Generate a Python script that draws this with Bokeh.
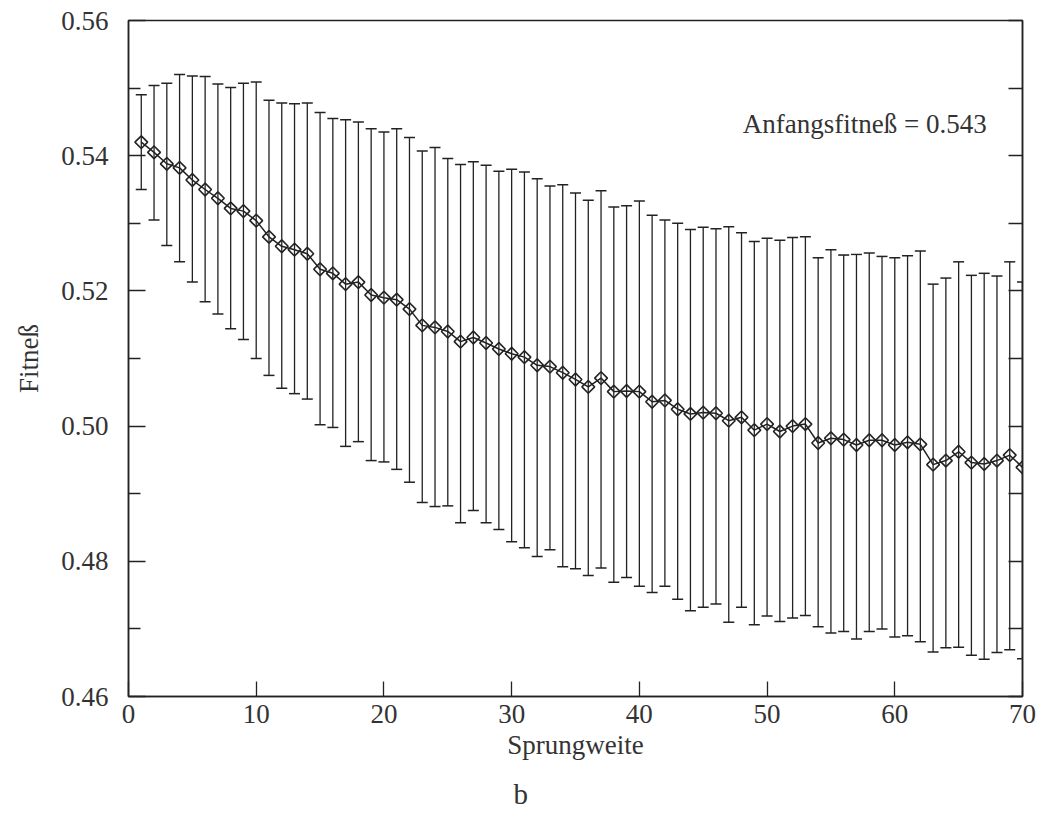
from bokeh.plotting import figure
from bokeh.models import (ColumnDataSource, Range1d, LinearAxis, Whisker, TeeHead,
                          Label, FixedTicker, Title)
from bokeh.embed import file_html
from bokeh.resources import INLINE

# ---- data ----
sprungweite = list(range(1, 71))
fitness_mean = [
    0.5420, 0.5405, 0.5388, 0.5382, 0.5364, 0.5350, 0.5337, 0.5322, 0.5318, 0.5304,
    0.5280, 0.5266, 0.5261, 0.5255, 0.5232, 0.5226, 0.5210, 0.5213, 0.5194, 0.5190,
    0.5187, 0.5173, 0.5149, 0.5146, 0.5140, 0.5125, 0.5131, 0.5123, 0.5114, 0.5107,
    0.5102, 0.5090, 0.5088, 0.5079, 0.5069, 0.5058, 0.5071, 0.5051, 0.5052, 0.5051,
    0.5036, 0.5038, 0.5025, 0.5018, 0.5020, 0.5019, 0.5008, 0.5013, 0.4994, 0.5003,
    0.4992, 0.5000, 0.5003, 0.4975, 0.4982, 0.4980, 0.4972, 0.4979, 0.4979, 0.4972,
    0.4976, 0.4973, 0.4943, 0.4949, 0.4962, 0.4946, 0.4944, 0.4949, 0.4957, 0.4939,
]
fitness_upper = [
    0.5490, 0.5504, 0.5507, 0.5520, 0.5518, 0.5517, 0.5506, 0.5501, 0.5507, 0.5509,
    0.5482, 0.5478, 0.5477, 0.5478, 0.5464, 0.5455, 0.5453, 0.5450, 0.5440, 0.5435,
    0.5440, 0.5427, 0.5407, 0.5412, 0.5396, 0.5387, 0.5391, 0.5386, 0.5377, 0.5380,
    0.5376, 0.5366, 0.5355, 0.5357, 0.5345, 0.5334, 0.5348, 0.5324, 0.5326, 0.5333,
    0.5312, 0.5305, 0.5300, 0.5291, 0.5294, 0.5292, 0.5295, 0.5286, 0.5273, 0.5278,
    0.5275, 0.5279, 0.5280, 0.5249, 0.5261, 0.5253, 0.5254, 0.5256, 0.5251, 0.5249,
    0.5252, 0.5259, 0.5210, 0.5219, 0.5243, 0.5223, 0.5226, 0.5222, 0.5243, 0.5213,
]
fitness_lower = [
    0.5350, 0.5305, 0.5267, 0.5243, 0.5213, 0.5184, 0.5166, 0.5144, 0.5128, 0.5100,
    0.5075, 0.5056, 0.5048, 0.5040, 0.5002, 0.4998, 0.4970, 0.4977, 0.4949, 0.4947,
    0.4936, 0.4917, 0.4887, 0.4881, 0.4882, 0.4857, 0.4875, 0.4857, 0.4847, 0.4829,
    0.4820, 0.4807, 0.4817, 0.4792, 0.4789, 0.4779, 0.4790, 0.4769, 0.4776, 0.4763,
    0.4754, 0.4763, 0.4744, 0.4727, 0.4732, 0.4737, 0.4710, 0.4732, 0.4706, 0.4719,
    0.4711, 0.4716, 0.4720, 0.4703, 0.4694, 0.4696, 0.4685, 0.4696, 0.4700, 0.4688,
    0.4690, 0.4681, 0.4666, 0.4672, 0.4673, 0.4661, 0.4655, 0.4665, 0.4669, 0.4656,
]
x_ticks = [0, 10, 20, 30, 40, 50, 60, 70]
y_ticks = [0.46, 0.48, 0.50, 0.52, 0.54, 0.56]
y_minor_ticks = [0.47, 0.49, 0.51, 0.53, 0.55]
annotation_text = "Anfangsfitneß = 0.543"
x_label = "Sprungweite"
y_label = "Fitneß"
panel_label = "b"

FONT = "Liberation Serif"
INK = "#222222"
TXT = "#333333"

src = ColumnDataSource(dict(x=sprungweite, mean=fitness_mean,
                            upper=fitness_upper, lower=fitness_lower))

p = figure(width=1048, height=822, x_range=Range1d(0, 70), y_range=Range1d(0.46, 0.56),
           output_backend="svg", toolbar_location=None,
           min_border_left=128, min_border_right=26, min_border_top=20,
           min_border_bottom=125)
p.background_fill_color = "white"
p.border_fill_color = "white"
p.outline_line_color = INK
p.outline_line_width = 1.5
p.xgrid.visible = False
p.ygrid.visible = False

# error bars
w = Whisker(source=src, base="x", upper="upper", lower="lower",
            line_color=INK, line_width=1.3,
            upper_head=TeeHead(size=11, line_color=INK, line_width=1.5),
            lower_head=TeeHead(size=11, line_color=INK, line_width=1.5))
p.add_layout(w)

p.line("x", "mean", source=src, line_color=INK, line_width=1.5)
p.scatter("x", "mean", source=src, marker="square", angle=0.785398, size=9,
          fill_color=None, line_color=INK, line_width=1.6)

# axes
xa = p.xaxis[0]
xa.ticker = FixedTicker(ticks=x_ticks)
xa.major_tick_in = 15
xa.major_tick_out = 0
xa.minor_tick_in = 0
xa.minor_tick_out = 0
xa.axis_line_color = INK
xa.axis_line_width = 1.5
xa.major_tick_line_color = INK
xa.major_tick_line_width = 1.3
xa.major_label_text_font = FONT
xa.major_label_text_font_size = "27px"
xa.major_label_text_color = TXT
xa.major_label_standoff = 8
xa.axis_label = x_label
xa.axis_label_text_font = FONT
xa.axis_label_text_font_style = "normal"
xa.axis_label_text_font_size = "27px"
xa.axis_label_text_color = TXT
xa.axis_label_standoff = 4

ya = p.yaxis[0]
ya.ticker = FixedTicker(ticks=y_ticks, minor_ticks=y_minor_ticks)
ya.major_tick_in = 17
ya.major_tick_out = 0
ya.minor_tick_in = 12
ya.minor_tick_out = 0
ya.axis_line_color = INK
ya.axis_line_width = 1.5
ya.major_tick_line_color = INK
ya.major_tick_line_width = 1.3
ya.minor_tick_line_color = INK
ya.minor_tick_line_width = 1.3
ya.major_label_text_font = FONT
ya.major_label_text_font_size = "27px"
ya.major_label_text_color = TXT
ya.major_label_standoff = 20
ya.major_label_overrides = {t: f"{t:.2f}" for t in y_ticks}
ya.axis_label = y_label
ya.axis_label_text_font = FONT
ya.axis_label_text_font_style = "normal"
ya.axis_label_text_font_size = "27px"
ya.axis_label_text_color = TXT
ya.axis_label_standoff = 14

# mirrored ticks on the right spine (no labels)
ra = LinearAxis(ticker=FixedTicker(ticks=[], minor_ticks=y_ticks + y_minor_ticks))
ra.major_tick_in = 0
ra.major_tick_out = 0
ra.minor_tick_in = 14
ra.minor_tick_out = 0
ra.axis_line_color = INK
ra.axis_line_width = 1.5
ra.minor_tick_line_color = INK
ra.minor_tick_line_width = 1.3
ra.major_label_standoff = 0
p.add_layout(ra, "right")

p.add_layout(Label(x=67.2, y=0.5447, text=annotation_text, text_align="right",
                   text_baseline="middle", text_font=FONT, text_font_size="27px",
                   text_color=TXT))

t = Title(text=panel_label, align="left", offset=385, standoff=26,
          text_font=FONT, text_font_size="29px", text_font_style="normal",
          text_color=TXT)
p.add_layout(t, "below")

open("out.html", "w").write(file_html(p, INLINE))
